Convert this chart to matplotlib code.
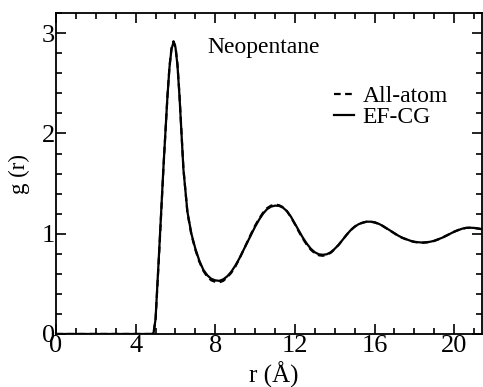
import numpy as np
import matplotlib.pyplot as plt
from matplotlib.ticker import MultipleLocator

plt.rcParams['font.family'] = ['Liberation Serif', 'DejaVu Serif']

# r grid (Angstrom)
r = [0.0, 4.4, 4.6, 4.8, 4.9, 5.0, 5.2, 5.4, 5.6, 5.7, 5.8, 5.9, 6.0, 6.1, 6.2, 6.4, 6.6, 6.8,
     7.0, 7.2, 7.4, 7.6, 7.8, 8.0, 8.2, 8.4, 8.6, 8.8, 9.0, 9.2, 9.4, 9.6, 9.8,
     10.0, 10.2, 10.4, 10.6, 10.8, 11.0, 11.2, 11.4, 11.6, 11.8, 12.0, 12.2, 12.4,
     12.6, 12.8, 13.0, 13.2, 13.4, 13.6, 13.8, 14.0, 14.2, 14.4, 14.6, 14.8, 15.0,
     15.2, 15.4, 15.6, 15.8, 16.0, 16.2, 16.4, 16.6, 16.8, 17.0, 17.2, 17.4, 17.6,
     17.8, 18.0, 18.2, 18.4, 18.6, 18.8, 19.0, 19.2, 19.4, 19.6, 19.8, 20.0, 20.2,
     20.4, 20.6, 20.8, 21.0, 21.2, 21.4]

# EF-CG g(r)
g_cg = [0.0, 0.0, 0.0, 0.0, 0.01, 0.15, 0.9, 1.68, 2.38, 2.66, 2.84, 2.91, 2.86, 2.68, 2.38, 1.64,
        1.22, 1.0, 0.85, 0.73, 0.64, 0.585, 0.55, 0.535, 0.53, 0.545, 0.575, 0.62,
        0.68, 0.75, 0.83, 0.91, 0.99, 1.07, 1.14, 1.2, 1.245, 1.27, 1.28, 1.278,
        1.26, 1.225, 1.17, 1.1, 1.03, 0.96, 0.9, 0.85, 0.815, 0.795, 0.79, 0.795,
        0.815, 0.85, 0.89, 0.94, 0.99, 1.035, 1.07, 1.095, 1.11, 1.12, 1.12, 1.115,
        1.1, 1.08, 1.055, 1.03, 1.005, 0.98, 0.96, 0.945, 0.93, 0.92, 0.915, 0.912,
        0.915, 0.92, 0.93, 0.945, 0.96, 0.98, 1.0, 1.02, 1.035, 1.05, 1.058, 1.06,
        1.058, 1.052, 1.045]

# all-atom g(r)
g_aa = [0.0, 0.0, 0.0, 0.0, 0.01, 0.14, 0.88, 1.67, 2.38, 2.67, 2.85, 2.92, 2.87, 2.69, 2.39, 1.65,
        1.21, 0.99, 0.84, 0.72, 0.63, 0.57, 0.535, 0.52, 0.515, 0.53, 0.565, 0.61,
        0.67, 0.745, 0.83, 0.915, 1.0, 1.08, 1.15, 1.21, 1.255, 1.28, 1.29, 1.285,
        1.265, 1.225, 1.165, 1.095, 1.02, 0.95, 0.89, 0.84, 0.805, 0.785, 0.78, 0.79,
        0.81, 0.845, 0.89, 0.94, 0.99, 1.035, 1.07, 1.095, 1.11, 1.12, 1.12, 1.112,
        1.098, 1.078, 1.053, 1.028, 1.003, 0.978, 0.958, 0.943, 0.928, 0.918, 0.912,
        0.91, 0.913, 0.918, 0.928, 0.943, 0.96, 0.98, 1.0, 1.02, 1.037, 1.05, 1.058,
        1.06, 1.058, 1.052, 1.045]

fig = plt.figure(figsize=(4.83, 3.87), dpi=100)
ax = fig.add_axes([0.116, 0.137, 0.882, 0.829])

ax.plot(r, g_aa, 'k--', lw=1.6, dashes=(3, 2), label="All-atom")
ax.plot(r, g_cg, 'k-', lw=1.6, label="EF-CG")

ax.set_xlim(0, 21.4)
ax.set_ylim(0, 3.2)
ax.xaxis.set_major_locator(MultipleLocator(4))
ax.xaxis.set_minor_locator(MultipleLocator(1))
ax.yaxis.set_major_locator(MultipleLocator(1))
ax.yaxis.set_minor_locator(MultipleLocator(0.2))
ax.tick_params(which='both', direction='in', top=True, right=True,
               labelsize=19, width=1.2, pad=1)
ax.tick_params(which='major', length=7)
ax.tick_params(which='minor', length=4)
for s in ax.spines.values():
    s.set_linewidth(1.3)

ax.set_xlabel("r (Å)", fontsize=18)
ax.xaxis.set_label_coords(0.51, -0.085)
ax.xaxis.label.set_va('top')
ax.set_ylabel("g (r)", fontsize=16.5)
ax.yaxis.set_label_coords(-0.062, 0.5)

ax.text(7.6, 2.80, "Neopentane", fontsize=17)
ax.legend(loc='upper left', bbox_to_anchor=(0.653, 0.775), frameon=False,
          fontsize=17, handlelength=0.85, handletextpad=0.35, labelspacing=0.0,
          borderpad=0.0, borderaxespad=0.0)

fig.savefig("out.png", dpi=100)
